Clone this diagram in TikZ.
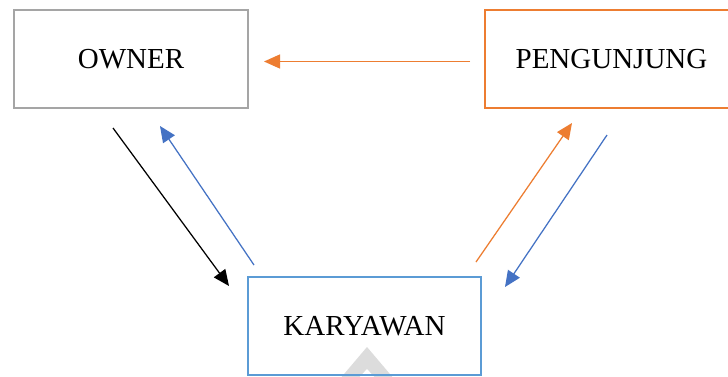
\documentclass[tikz,border=0pt]{standalone}
\usepackage{fontspec}
\setmainfont{Liberation Serif}
\usetikzlibrary{arrows.meta}
\definecolor{boxgrey}{HTML}{A5A5A5}
\definecolor{orng}{HTML}{ED7D31}
\definecolor{boxblue}{HTML}{5B9BD5}
\definecolor{arrblue}{HTML}{4472C4}
\definecolor{wm}{HTML}{DCDCDC}
\begin{document}
\begin{tikzpicture}[x=1pt,y=-1pt,
  entity/.style={draw, line width=2.8pt, fill=white, inner sep=0pt,
    font=\fontsize{29}{34}\selectfont, minimum height=98pt},
  conn/.style={line width=1.25pt, -{Triangle[length=16pt,width=14pt]}}]
\useasboundingbox (0,0) rectangle (728,376);
\clip (0,0) rectangle (728,376);
\fill[white] (0,0) rectangle (728,376);
% watermark
\fill[wm] (367,347) -- (395,380) -- (339,380) -- cycle;
\fill[white] (367,369) -- (377,380) -- (357,380) -- cycle;
\node[entity, draw=boxgrey, minimum width=234pt] (owner) at (131,59) {OWNER};
\node[entity, draw=orng, minimum width=253pt] (peng) at (611.5,59) {PENGUNJUNG};
\node[entity, draw=boxblue, minimum width=233pt, fill=none] (kary) at (364.5,326) {KARYAWAN};
% arrow ends
\coordinate (a1s) at (113,128); \coordinate (a1e) at (229,286);
\coordinate (a2s) at (254,265); \coordinate (a2e) at (160,126);
\coordinate (a3s) at (476,262); \coordinate (a3e) at (572,123);
\coordinate (a4s) at (607,135); \coordinate (a4e) at (505,287);
\coordinate (a5s) at (470,61.5);  \coordinate (a5e) at (264,61.5);
\draw[conn, black] (a1s) -- (a1e);
\draw[conn, arrblue] (a2s) -- (a2e);
\draw[conn, orng] (a3s) -- (a3e);
\draw[conn, arrblue] (a4s) -- (a4e);
\draw[conn, orng] (a5s) -- (a5e);
\end{tikzpicture}
\end{document}
